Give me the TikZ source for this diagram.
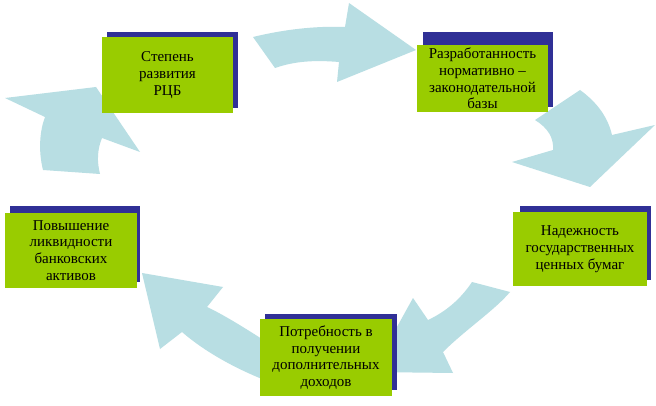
\documentclass[tikz,border=0pt]{standalone}
\usepackage{fontspec}
\setmainfont{Liberation Serif}
\definecolor{boxgreen}{RGB}{153,204,0}
\definecolor{shadowblue}{RGB}{48,48,150}
\definecolor{arrowcol}{RGB}{184,222,227}
\tikzset{
  greenbox/.style={fill=boxgreen, draw=none, inner sep=0pt, align=center,
    font=\fontsize{15}{16.8}\selectfont, text=black},
  shadowrect/.style={fill=shadowblue, draw=none},
  blockarrow/.style={fill=arrowcol, draw=none}
}
\begin{document}
\begin{tikzpicture}[x=1pt,y=-1pt]
\useasboundingbox (0,0) rectangle (656,406);
\fill[white] (0,0) rectangle (656,406);
% block arrows
\fill[blockarrow] (253,37) .. controls (290,28) and (322,26) .. (345,27) -- (349,3) -- (416,50) -- (337,82) -- (339,62) .. controls (315,60) and (295,61) .. (275,68) -- cycle;
\fill[blockarrow] (580,90) .. controls (598,103) and (608,118) .. (612,135) -- (655,125) -- (590,187) -- (512,162) -- (553,150) .. controls (554,138) and (548,128) .. (535,120) -- cycle;
\fill[blockarrow] (472,282) .. controls (460,300) and (445,312) .. (428,320) -- (413,298) -- (372,372) -- (453,373) -- (443,352) .. controls (465,330) and (495,310) .. (510,292) -- cycle;
\fill[blockarrow] (262,339) .. controls (240,325) and (222,314) .. (207,307) -- (223,287) -- (142,273) -- (160,349) -- (182,332) .. controls (205,352) and (235,368) .. (262,379) -- cycle;
\fill[blockarrow] (43,170) .. controls (38,150) and (40,130) .. (45,117) -- (5,98) -- (96,87) -- (140,152) -- (102,138) .. controls (97,150) and (97,162) .. (100,174) -- cycle;
% shadows
\fill[shadowrect] (107,32) rectangle (238,108);
\fill[shadowrect] (423,32) rectangle (553,107);
\fill[shadowrect] (520,206) rectangle (651,280);
\fill[shadowrect] (10,206) rectangle (140,282);
\fill[shadowrect] (265,314) rectangle (397,390);
% boxes
\node[greenbox, minimum width=131pt, minimum height=76pt] (b1) at (167.5,75) {Степень\\развития\\РЦБ};
\node[greenbox, minimum width=131pt, minimum height=67pt] (b2) at (482.5,78.5) {Разработанность\\нормативно –\\законодательной\\базы};
\node[greenbox, minimum width=134pt, minimum height=74pt] (b3) at (580,249) {Надежность\\государственных\\ценных бумаг};
\node[greenbox, minimum width=132pt, minimum height=75pt] (b4) at (71,250.5) {Повышение\\ликвидности\\банковских\\активов};
\node[greenbox, minimum width=132pt, minimum height=77pt] (b5) at (326,357.5) {Потребность в\\получении\\дополнительных\\доходов};
\end{tikzpicture}
\end{document}
